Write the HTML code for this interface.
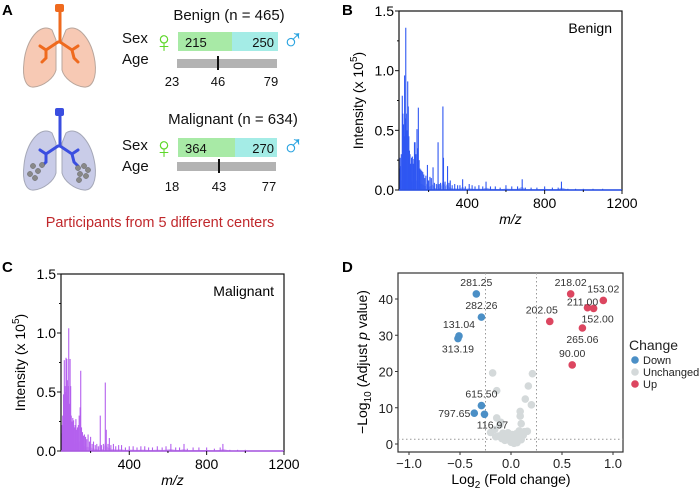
<!DOCTYPE html>
<html><head><meta charset="utf-8">
<style>
html,body{margin:0;padding:0;background:#fff;}
svg{display:block;font-family:"Liberation Sans",Arial,sans-serif;}
</style></head>
<body>
<svg id="fig" width="700" height="489" viewBox="0 0 700 489" xmlns="http://www.w3.org/2000/svg">
  <text x="2" y="15" font-size="15" font-weight="bold">A</text>
  <text x="342" y="15" font-size="15" font-weight="bold">B</text>
  <text x="2" y="272" font-size="15" font-weight="bold">C</text>
  <text x="342" y="272" font-size="15" font-weight="bold">D</text>

  <g>
    <g>
      <path d="M52,30 C40,22 26,40 24,62 C22,78 26,88 34,87 C44,86 54,78 56,70 L56,40 Z" fill="#f7c9b4" stroke="#b9a69c" stroke-width="1"/>
      <path d="M66,30 C78,22 92,40 95,62 C97,78 92,88 84,87 C74,86 64,78 62,70 L62,40 Z" fill="#f7c9b4" stroke="#b9a69c" stroke-width="1"/>
      <path d="M60,10 L60,42 L72,50 L78,46 M60,42 L58,42 L46,50 L40,46 M46,50 L46,58 L42,62 M72,50 L74,58 L78,62" fill="none" stroke="#ef6a1e" stroke-width="3" stroke-linecap="round"/>
      <rect x="55" y="4" width="9" height="8" rx="2" fill="#ef6a1e"/>
    </g>
    <g>
      <path d="M52,133 C40,125 26,143 24,165 C22,181 26,191 34,190 C44,189 54,181 56,173 L56,143 Z" fill="#c9cce8" stroke="#a5a8b8" stroke-width="1"/>
      <path d="M66,133 C78,125 92,143 95,165 C97,181 92,191 84,190 C74,189 64,181 62,173 L62,143 Z" fill="#c9cce8" stroke="#a5a8b8" stroke-width="1"/>
      <path d="M60,114 L60,146 L72,154 L78,150 M60,146 L58,146 L46,154 L40,150 M46,154 L46,162 L42,166 M72,154 L74,162 L78,166" fill="none" stroke="#3a4ee0" stroke-width="3" stroke-linecap="round"/>
      <rect x="55" y="108" width="9" height="8" rx="2" fill="#3a4ee0"/>
      <g fill="#888" stroke="#666" stroke-width="0.5">
        <circle cx="33" cy="166" r="2.6"/><circle cx="38" cy="171" r="2.6"/><circle cx="30" cy="174" r="2.6"/><circle cx="42" cy="165" r="2.6"/><circle cx="35" cy="178" r="2.6"/>
        <circle cx="78" cy="168" r="2.6"/><circle cx="84" cy="166" r="2.6"/><circle cx="88" cy="170" r="2.6"/><circle cx="80" cy="174" r="2.6"/><circle cx="86" cy="176" r="2.6"/><circle cx="79" cy="180" r="2.6"/>
      </g>
    </g>
    <g font-size="15" fill="#111">
      <text x="229" y="20" text-anchor="middle">Benign (n = 465)</text>
      <text x="122" y="43">Sex</text>
      <text x="122" y="64">Age</text>
      <rect x="178" y="32" width="54" height="19" fill="#a8eaa6"/>
      <rect x="232" y="32" width="46" height="19" fill="#a4ece6"/>
      <text x="185" y="47" font-size="13">215</text>
      <text x="274" y="47" font-size="13" text-anchor="end">250</text>
      <text x="164" y="52" font-size="30" fill="#5ed72a" text-anchor="middle">♀</text>
      <text x="293" y="50" font-size="30" fill="#2ba4e0" text-anchor="middle">♂</text>
      <rect x="177" y="59" width="100" height="9" fill="#b3b3b3"/>
      <rect x="217" y="56" width="2" height="14" fill="#111"/>
      <text x="172" y="86" font-size="13" text-anchor="middle">23</text>
      <text x="218" y="86" font-size="13" text-anchor="middle">46</text>
      <text x="271" y="86" font-size="13" text-anchor="middle">79</text>

      <text x="233" y="124" text-anchor="middle">Malignant (n = 634)</text>
      <text x="122" y="150">Sex</text>
      <text x="122" y="171">Age</text>
      <rect x="178" y="138" width="57" height="19" fill="#a8eaa6"/>
      <rect x="235" y="138" width="42" height="19" fill="#a4ece6"/>
      <text x="185" y="153" font-size="13">364</text>
      <text x="274" y="153" font-size="13" text-anchor="end">270</text>
      <text x="164" y="158" font-size="30" fill="#5ed72a" text-anchor="middle">♀</text>
      <text x="293" y="156" font-size="30" fill="#2ba4e0" text-anchor="middle">♂</text>
      <rect x="177" y="162" width="99" height="9" fill="#b3b3b3"/>
      <rect x="218" y="159" width="2" height="14" fill="#111"/>
      <text x="172" y="191" font-size="13" text-anchor="middle">18</text>
      <text x="219" y="191" font-size="13" text-anchor="middle">43</text>
      <text x="269" y="191" font-size="13" text-anchor="middle">77</text>
      <text x="160" y="227" font-size="14.5" fill="#c0282c" text-anchor="middle">Participants from 5 different centers</text>
    </g>
  </g>

  <g id="panelB"></g>
  <g id="panelC"></g>
  <g id="panelD"></g>
</svg>
<script>
const benignMz  = [50,53,56,59,64,67,70,73,76,79,82,85,88,92,95,98,101,104,108,112,116,120,124,127,130,134,140,144,147,151,155,160,165,170,175,180,186,194,200,207,214,223,230,240,249,255,262,274,277,285,298,305,312,322,335,350,362,376,390,410,425,440,460,480,497,520,545,570,600,630,660,684,700,730,760,800,840,870,887,920,960,1000,1050,1100];
const benignInt = [.18,.27,.20,.30,.79,.64,.55,.45,.96,.60,1.36,.64,.50,.91,.70,.45,.33,.30,.22,.27,.28,.22,.26,.40,.40,.30,.51,.35,.69,.25,.18,.17,.16,.15,.13,.10,.12,.21,.08,.11,.10,.19,.06,.05,.40,.05,.06,.70,.27,.07,.20,.06,.08,.04,.05,.04,.04,.09,.03,.05,.04,.03,.04,.03,.07,.03,.03,.02,.04,.03,.03,.09,.02,.02,.02,.03,.02,.02,.07,.01,.01,.01,.01,.01];
const malignantMz  = [50,53,56,60,64,67,70,73,77,80,82,85,87,91,94,97,100,104,108,112,116,120,124,128,132,137,141,146,149,153,158,163,168,174,180,187,194,200,208,215,224,232,240,250,256,266,276,281,290,297,305,318,330,345,360,380,400,420,440,460,480,500,520,545,570,590,615,640,660,683,700,730,760,800,840,870,884,920,960,1000];
const malignantInt = [.15,.22,.30,.48,.77,.55,.50,.79,.78,.60,.47,.55,1.04,.40,.78,.55,.30,.25,.28,.26,.20,.22,.27,.18,.20,.22,.30,.37,.68,.20,.16,.13,.14,.12,.10,.14,.08,.12,.06,.08,.05,.06,.04,.30,.05,.06,.58,.18,.06,.11,.05,.06,.04,.05,.05,.03,.04,.04,.03,.04,.04,.03,.03,.04,.03,.04,.06,.03,.03,.06,.02,.03,.03,.03,.02,.03,.06,.01,.01,.01];
const mzTicks = [400,800,1200];
const intTicks = [0.0,0.5,1.0,1.5];

const downX = [-0.34,-0.29,-0.51,-0.52,-0.29,-0.36,-0.26];
const downY = [41.4,35.0,29.8,29.1,10.6,8.5,8.2];
const downLabels = ["281.25","282.26","131.04","313.19","615.50","797.65","116.97"];
const upX = [0.585,0.905,0.75,0.81,0.38,0.70,0.60];
const upY = [41.4,39.6,37.6,37.4,33.8,32.0,21.8];
const upLabels = ["218.02","153.02","211.00","152.00","202.05","265.06","90.00"];
const unX = [-0.18,-0.14,0.21,0.17,0.14,0.20,0.09,0.09,-0.14,-0.10,-0.11,0.10,0.16,-0.20,-0.16,-0.08,-0.05,-0.02,0.02,0.05,0.08,0.12,-0.12,-0.06,0.00,0.04,0.07,-0.03,0.01,0.10,-0.09,0.13,-0.15,0.06,-0.01,0.03];
const unY = [19.6,14.7,19.4,16.0,12.4,10.8,9.0,7.7,7.2,6.0,5.3,5.6,3.5,3.2,4.0,3.0,2.5,2.0,1.5,2.8,3.6,2.4,2.2,1.0,0.5,0.8,1.8,3.1,2.6,1.2,1.5,3.4,2.0,0.4,0.9,0.2];
const vxTicks = [-1.0,-0.5,0.0,0.5,1.0];
const vyTicks = [0,10,20,30,40];

const NS = "http://www.w3.org/2000/svg";
function mk(tag, attrs, parent){const e=document.createElementNS(NS,tag);for(const k in attrs)e.setAttribute(k,attrs[k]);parent.appendChild(e);return e;}

function spectrum(g, box, mz, inten, color, label, ytitleX){
  const xmin=47, xmax=1200, ymax=1.5;
  const sx=v=>box.x0+(v-xmin)/(xmax-xmin)*(box.x1-box.x0);
  const sy=v=>box.y1-(v/ymax)*(box.y1-box.y0);
  let d="M"+sx(xmin)+","+sy(0);
  for(let i=0;i<mz.length;i++){d+=" L"+sx(mz[i])+","+sy(Math.min(inten[i]*0.3,0.08));}
  d+=" L"+sx(xmax)+","+sy(0)+" Z";
  const area=mk("path",{d:d,fill:color,opacity:0.5},g);
  
  
  for(let i=0;i<mz.length;i++){
    const l=mk("line",{x1:sx(mz[i]),x2:sx(mz[i]),y1:sy(0),y2:sy(inten[i]),stroke:color,"stroke-width":1.1},g);
    
    
  }
  const fr=mk("rect",{x:box.x0,y:box.y0,width:box.x1-box.x0,height:box.y1-box.y0,fill:"none",stroke:"#111","stroke-width":1.2},g);
  
  
  mk("line",{x1:box.x0,x2:box.x1,y1:sy(0),y2:sy(0),stroke:color,"stroke-width":1.5},g);
  for(const t of intTicks){
    mk("line",{x1:box.x0-4,x2:box.x0,y1:sy(t),y2:sy(t),stroke:"#111"},g);
    const tx=mk("text",{x:box.x0-5,y:sy(t)+5,"font-size":14,"text-anchor":"end"},g);
    tx.textContent=t.toFixed(1);
    
    
  }
  for(const t of [0.25,0.75,1.25]) mk("line",{x1:box.x0-2,x2:box.x0,y1:sy(t),y2:sy(t),stroke:"#111"},g);
  for(const t of mzTicks){
    mk("line",{x1:sx(t),x2:sx(t),y1:box.y1,y2:box.y1+4,stroke:"#111"},g);
    const tx=mk("text",{x:sx(t),y:box.y1+18,"font-size":14,"text-anchor":"middle"},g);
    tx.textContent=t;
    
    
  }
  for(const t of [200,600,1000]) mk("line",{x1:sx(t),x2:sx(t),y1:box.y1,y2:box.y1+2,stroke:"#111"},g);
  const xt=mk("text",{x:(box.x0+box.x1)/2,y:box.y1+34,"font-size":14,"font-style":"italic","text-anchor":"middle"},g);
  xt.textContent="m/z";
  
  
  const yc=(box.y0+box.y1)/2;
  const yt=mk("text",{x:ytitleX,y:yc,"font-size":14,"text-anchor":"middle",transform:"rotate(-90 "+ytitleX+" "+yc+")"},g);
  yt.innerHTML='Intensity (x 10<tspan dy="-6" font-size="10">5</tspan><tspan dy="6">)</tspan>';
  
  
  const lb=mk("text",{x:box.x1-10,y:box.y0+22,"font-size":14,"text-anchor":"end"},g);
  lb.textContent=label;
  
  
}
spectrum(document.getElementById("panelB"),{x0:399,x1:622,y0:11,y1:190},benignMz,benignInt,"#2f57f2","Benign",363);
spectrum(document.getElementById("panelC"),{x0:61,x1:284,y0:274,y1:451},malignantMz,malignantInt,"#b460ee","Malignant",25);

(function(){
  const g=document.getElementById("panelD");
  const box={x0:398,x1:623,y0:273,y1:452};
  const sx=v=>409+(v+1)*102;
  const sy=v=>444-v*3.625;
  const fr=mk("rect",{x:box.x0,y:box.y0,width:box.x1-box.x0,height:box.y1-box.y0,fill:"#fff",stroke:"#333","stroke-width":1.2},g);
  
  
  for(const v of [-0.25,0.25]) mk("line",{x1:sx(v),x2:sx(v),y1:box.y0,y2:box.y1,stroke:"#999","stroke-dasharray":"1.5,2.5","stroke-width":1},g);
  mk("line",{x1:box.x0,x2:box.x1,y1:sy(1.3),y2:sy(1.3),stroke:"#999","stroke-dasharray":"1.5,2.5","stroke-width":1},g);
  function pts(xs,ys,col,name){
    for(let i=0;i<xs.length;i++){
      const c=mk("circle",{cx:sx(xs[i]),cy:sy(ys[i]),r:3.8,fill:col},g);
      
      
    }
  }
  pts(unX,unY,"#d4d9da","point-unchanged");
  pts(downX,downY,"#4b8fc6","point-down");
  pts(upX,upY,"#dc4660","point-up");
  const downOff=[[0,-8],[0,-8],[0,-8],[0,14],[0,-8],[-20,4],[8,14]];
  const upOff=[[0,-8],[0,-8],[-5,-2],[4,14],[-8,-8],[0,15],[0,-8]];
  function labels(xs,ys,ls,off){
    for(let i=0;i<xs.length;i++){
      const t=mk("text",{x:sx(xs[i])+off[i][0],y:sy(ys[i])+off[i][1],"font-size":10.5,fill:"#333","text-anchor":"middle"},g);
      t.textContent=ls[i];
      
      
    }
  }
  labels(downX,downY,downLabels,downOff);
  labels(upX,upY,upLabels,upOff);
  for(const t of vxTicks){
    mk("line",{x1:sx(t),x2:sx(t),y1:box.y1,y2:box.y1+3,stroke:"#333"},g);
    const tx=mk("text",{x:sx(t),y:box.y1+16,"font-size":13,"text-anchor":"middle",fill:"#222"},g);
    tx.textContent=(t<0?"\u2212":"")+Math.abs(t).toFixed(1);
    
    
  }
  for(const t of vyTicks){
    mk("line",{x1:box.x0-3,x2:box.x0,y1:sy(t),y2:sy(t),stroke:"#333"},g);
    const tx=mk("text",{x:box.x0-5,y:sy(t)+5,"font-size":13,"text-anchor":"end",fill:"#222"},g);
    tx.textContent=t;
    
    
  }
  const xt=mk("text",{x:511,y:484,"font-size":14,"text-anchor":"middle"},g);
  xt.innerHTML='Log<tspan dy="4" font-size="10">2</tspan><tspan dy="-4"> (Fold change)</tspan>';
  
  
  const yt=mk("text",{x:367,y:362,"font-size":14,"text-anchor":"middle",transform:"rotate(-90 367 362)"},g);
  yt.innerHTML='\u2212Log<tspan dy="4" font-size="10">10</tspan><tspan dy="-4"> (Adjust </tspan><tspan font-style="italic">p</tspan> value)';
  
  
  const lt=mk("text",{x:629,y:350,"font-size":14,fill:"#222"},g);
  lt.textContent="Change";
  
  
  const items=[["Down","#4b8fc6"],["Unchanged","#d4d9da"],["Up","#dc4660"]];
  items.forEach((it,i)=>{
    const y=360+i*12;
    const c=mk("circle",{cx:635,cy:y,r:3.8,fill:it[1]},g);
    
    
    const t=mk("text",{x:643,y:y+4,"font-size":11,fill:"#222"},g);
    t.textContent=it[0];
    
    
  });
})();
</script>
</body></html>
